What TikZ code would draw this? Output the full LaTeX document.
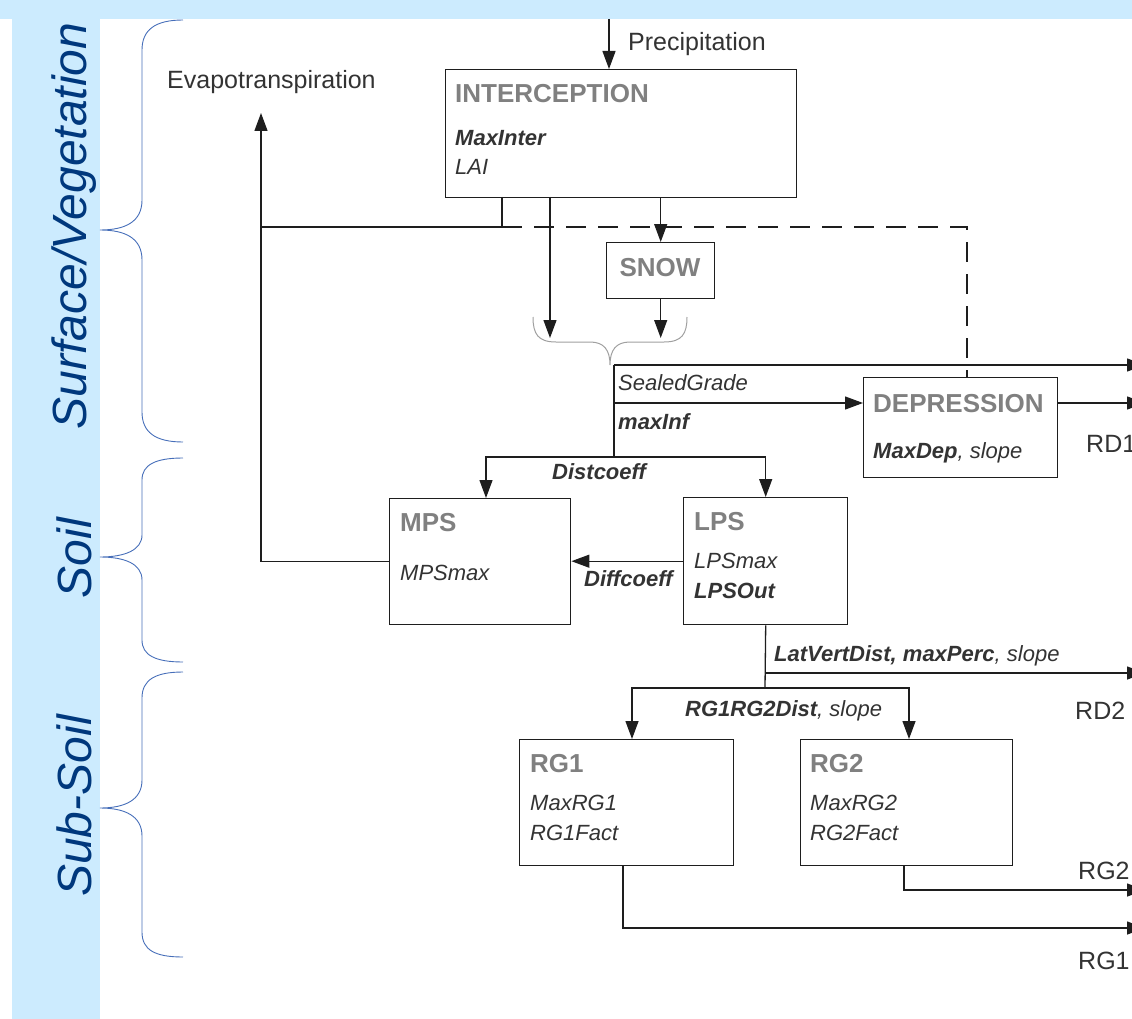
\documentclass[tikz,border=0pt]{standalone}
\usepackage{fontspec}
\setmainfont{Liberation Sans}
\usetikzlibrary{arrows.meta,calc}
\definecolor{band}{RGB}{204,235,254}
\definecolor{sidetxt}{RGB}{0,56,125}
\definecolor{bracec}{RGB}{70,110,185}
\definecolor{ttl}{RGB}{128,128,128}
\definecolor{txt}{RGB}{51,51,51}
\definecolor{ln}{RGB}{30,30,30}
\definecolor{gbrace}{RGB}{160,160,160}
\begin{document}
\begin{tikzpicture}[x=1pt,y=-1pt,
  box/.style={draw=ln, line width=1.4pt, rectangle, anchor=north west, inner sep=0pt},
  ttlstyle/.style={anchor=base west, inner sep=0pt, text=ttl, font=\fontsize{26}{30}\selectfont\bfseries},
  par/.style={anchor=base west, inner sep=0pt, text=txt, font=\fontsize{22}{26}\selectfont\itshape},
  lab/.style={anchor=base west, inner sep=0pt, text=txt, font=\fontsize{25}{30}\selectfont},
  side/.style={rotate=90, inner sep=0pt, text=sidetxt, font=\fontsize{48}{52}\selectfont\itshape},
  br/.style={draw=bracec, line width=0.9pt},
  wire/.style={draw=ln, line width=1.3pt},
  arr/.style={draw=ln, line width=1.3pt, -{Triangle[length=18pt,width=13pt]}},
  dsh/.style={draw=ln, line width=1.3pt, dash pattern=on 20pt off 12pt, dash phase=20pt}]
\clip (0,0) rectangle (1132,1019);
% bands
\fill[band] (0,0) rectangle (1132,19);
\fill[band] (12,19) rectangle (100,1019);
% side labels
\node[side] (lsurf) at (74,226) {Surface/Vegetation};
\node[side] (lsoil) at (74,558) {Soil};
\node[side] (lsub) at (74,806) {Sub-Soil};
% braces
\draw[br] (183,20) .. controls (155,20) and (142,30) .. (142,50) -- (142,200)
  .. controls (142,222) and (125,230) .. (100,230)
  .. controls (125,230) and (142,238) .. (142,260) -- (142,412)
  .. controls (142,432) and (155,442) .. (183,442);
\draw[br] (183,458) .. controls (155,458) and (142,465) .. (142,480) -- (142,535)
  .. controls (142,550) and (125,557) .. (100,557)
  .. controls (125,557) and (142,564) .. (142,580) -- (142,640)
  .. controls (142,655) and (155,662) .. (183,662);
\draw[br] (183,672) .. controls (155,672) and (142,680) .. (142,698) -- (142,780)
  .. controls (142,800) and (125,808) .. (100,808)
  .. controls (125,808) and (142,816) .. (142,836) -- (142,932)
  .. controls (142,950) and (155,957) .. (183,957);
% boxes
\node[box, minimum width=351pt, minimum height=128pt] (inter) at (445,69) {};
\node[box, minimum width=108pt, minimum height=56pt] (snow) at (606,242) {};
\node[box, minimum width=194pt, minimum height=100pt] (dep) at (863,377) {};
\node[box, minimum width=181pt, minimum height=126pt] (mps) at (389,498) {};
\node[box, minimum width=164pt, minimum height=127pt] (lps) at (683,497) {};
\node[box, minimum width=214pt, minimum height=126pt] (rg1) at (519,739) {};
\node[box, minimum width=212pt, minimum height=126pt] (rg2) at (800,739) {};
% box texts
\node[ttlstyle] (tinter) at (455,103) {INTERCEPTION};
\node[par] (pmaxinter) at (455,146) {\bfseries MaxInter};
\node[par] (plai) at (455,175) {LAI};
\node[ttlstyle, anchor=base] (tsnow) at (660,276) {SNOW};
\node[ttlstyle] (tdep) at (873,412) {DEPRESSION};
\node[par] (pdep) at (873,458) {\textbf{MaxDep}, slope};
\node[ttlstyle] (tmps) at (400,531) {MPS};
\node[par] (pmps) at (400,580) {MPSmax};
\node[ttlstyle] (tlps) at (694,530) {LPS};
\node[par] (plps1) at (694,568) {LPSmax};
\node[par] (plps2) at (694,598) {\bfseries LPSOut};
\node[ttlstyle] (trg1) at (530,772) {RG1};
\node[par] (prg1a) at (530,810) {MaxRG1};
\node[par] (prg1b) at (530,840) {RG1Fact};
\node[ttlstyle] (trg2) at (810,772) {RG2};
\node[par] (prg2a) at (810,810) {MaxRG2};
\node[par] (prg2b) at (810,840) {RG2Fact};
% outside labels
\node[lab] (lprec) at (628,51) {Precipitation};
\node[lab] (levap) at (167,89) {Evapotranspiration};
\node[par] (lsealed) at (618,390) {SealedGrade};
\node[par] (lmaxinf) at (618,429) {\bfseries maxInf};
\node[par] (ldist) at (552,479) {\bfseries Distcoeff};
\node[par] (ldiff) at (584,586) {\bfseries Diffcoeff};
\node[par] (llat) at (774,661) {\textbf{LatVertDist, maxPerc}, slope};
\node[par] (lrgd) at (685,716) {\textbf{RG1RG2Dist}, slope};
\node[lab] (lrd1) at (1086,452) {RD1};
\node[lab] (lrd2) at (1075,719) {RD2};
\node[lab] (lrg2) at (1078,879) {RG2};
\node[lab] (lrg1) at (1078,969) {RG1};
% coordinates
\coordinate (ptop) at (609,19);
\coordinate (evtip) at (261,113);
\coordinate (evj) at (261,227);
\coordinate (ia) at (502,197);
\coordinate (iaj) at (502,227);
\coordinate (dstart) at (522,227);
\coordinate (dcorner) at (967,227);
\coordinate (ib) at (550,197);
\coordinate (brL) at (550,338);
\coordinate (v0) at (614,365);
\coordinate (v2) at (614,403);
\coordinate (v1) at (614,457);
\coordinate (mpsin) at (486,498);
\coordinate (e1) at (1145,365);
\coordinate (e2) at (1145,403);
\coordinate (w1) at (765,673);
\coordinate (w2) at (765,688);
\coordinate (e3) at (1145,673);
\coordinate (rg1in) at (632,739);
\coordinate (rg2in) at (909,739);
\coordinate (rg1out) at (623,865);
\coordinate (rg2out) at (904,865);
\coordinate (e4) at (1145,890);
\coordinate (e5) at (1145,928);
% connectors
\draw[arr] (ptop) -- (ptop |- inter.north);
\draw[arr] (mps.west) -| (evtip);
\draw[wire] (ia) -- (iaj);
\draw[wire] (evj) -- (dstart);
\draw[dsh] (dstart) -- (dcorner) -- (dcorner |- dep.north);
\draw[arr] (ib) -- (brL);
\draw[arr] (snow.north |- inter.south) -- (snow.north);
\draw[arr] (snow.south) -- (snow.south |- brL);
\draw[draw=gbrace, line width=1pt] (533,317) .. controls (533,334) and (538,342) .. (556,342) -- (590,342)
  .. controls (604,342) and (610,350) .. (610,365)
  .. controls (610,350) and (616,342) .. (630,342) -- (664,342)
  .. controls (682,342) and (687,334) .. (687,317);
\draw[wire] (v0) -- (v1);
\draw[arr] (v0) -- (e1);
\draw[arr] (v2) -- (dep.west |- v2);
\draw[arr] (dep.east |- e2) -- (e2);
\draw[arr] (v1) -| (mpsin);
\draw[arr] (v1) -| (lps.north);
\draw[arr] (lps.west) -- (mps.east |- lps.west);
\draw[wire] (lps.south) -- (w2);
\draw[arr] (w1) -- (e3);
\draw[arr] (w2) -| (rg1in);
\draw[arr] (w2) -| (rg2in);
\draw[arr] (rg2out) |- (e4);
\draw[arr] (rg1out) |- (e5);
\end{tikzpicture}
\end{document}
